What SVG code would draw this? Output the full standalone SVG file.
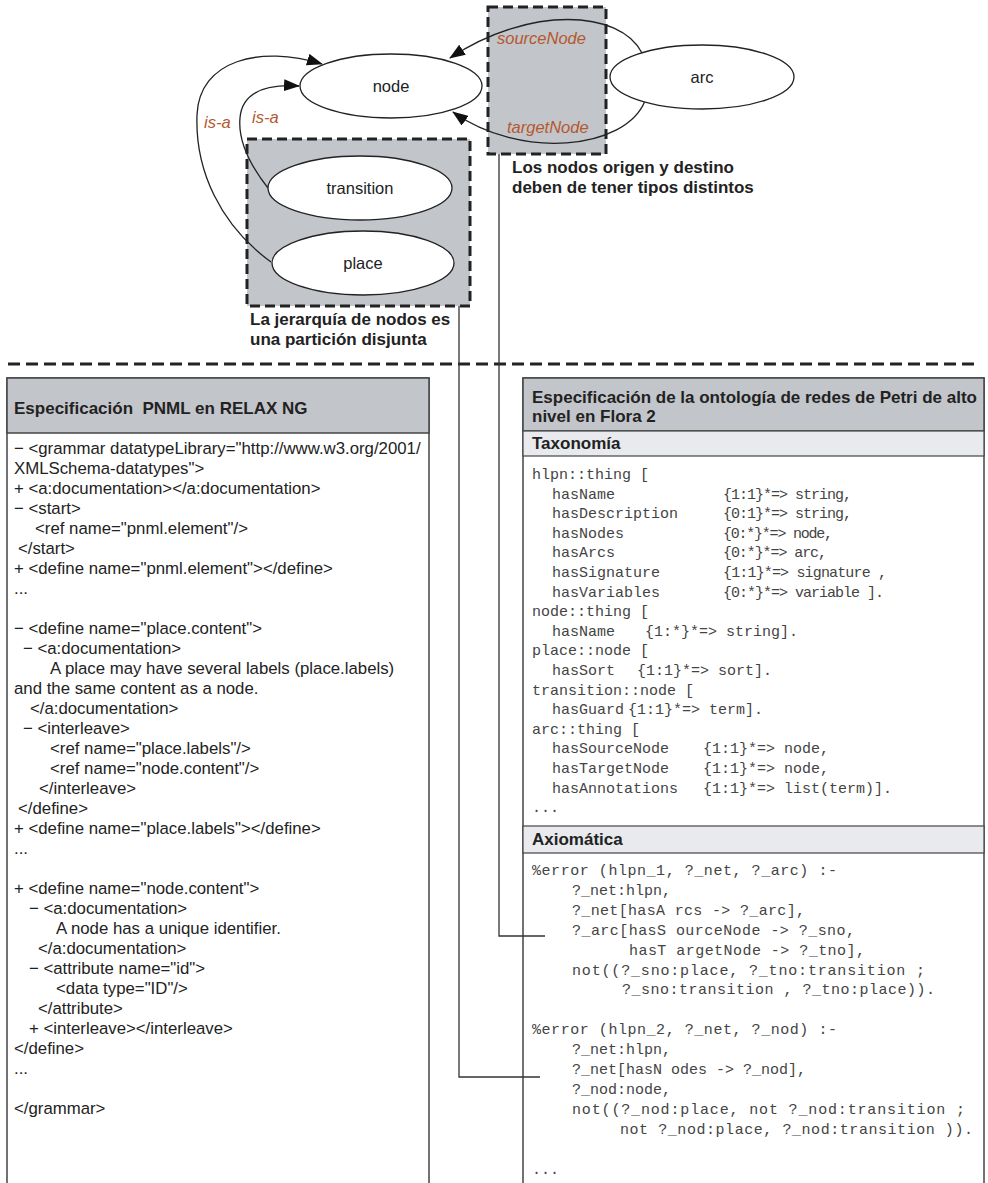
<svg xmlns="http://www.w3.org/2000/svg" width="988" height="1183" viewBox="0 0 988 1183">
<defs>
<marker id="ah" markerWidth="16" markerHeight="12" refX="15" refY="6" orient="auto" markerUnits="userSpaceOnUse">
<path d="M0,0 L16,6 L0,12 z" fill="#111"/>
</marker>
<style>
.lbl{font-family:"Liberation Sans",Arial,sans-serif;font-size:16.5px;fill:#222;text-anchor:middle}
.rel{font-family:"Liberation Sans",Arial,sans-serif;font-size:16.5px;font-style:italic;fill:#b5582e}
.note{font-family:"Liberation Sans",Arial,sans-serif;font-size:17px;font-weight:bold;fill:#222}
.ell{fill:#fff;stroke:#222;stroke-width:1.3}
.dbox{fill:#c2c5ca;stroke:#222;stroke-width:3;stroke-dasharray:10 5}
.sep{fill:none;stroke:#222;stroke-width:3;stroke-dasharray:12 6}
.edge{fill:none;stroke:#222;stroke-width:1.3}
.conn{fill:none;stroke:#333;stroke-width:1.3}
.panel{fill:#fff;stroke:#444;stroke-width:1.5}
.hdr{fill:#c2c5ca;stroke:#444;stroke-width:1.5}
.sub{fill:#e8eaed;stroke:#444;stroke-width:1.2}
.title{font-family:"Liberation Sans",Arial,sans-serif;font-size:17px;font-weight:bold;fill:#222;white-space:pre}
.xml{font-family:"Liberation Sans",Arial,sans-serif;font-size:16.8px;fill:#222}
.code{font-family:"Liberation Mono","Courier New",monospace;font-size:15px;fill:#444;white-space:pre}
</style>
</defs>

<!-- constraint boxes -->
<g id="box-hierarchy">
<rect class="dbox" x="247" y="139" width="223" height="167"/>
<text class="note" x="250" y="325">La jerarquía de nodos es</text>
<text class="note" x="250" y="345">una partición disjunta</text>
</g>
<g id="box-arcs">
<rect class="dbox" x="488" y="7" width="118" height="147"/>
<text class="note" x="512" y="173">Los nodos origen y destino</text>
<text class="note" x="512" y="193">deben de tener tipos distintos</text>
</g>

<!-- edges -->
<g id="edges">
<path class="edge" d="M642,53 C620,10 530,5 450,58" marker-end="url(#ah)"/>
<path class="edge" d="M645,101 C625,150 520,160 453,112" marker-end="url(#ah)"/>
<path class="edge" d="M271,262 C220,225 195,170 197,115 C199,60 260,45 322,64" marker-end="url(#ah)"/>
<path class="edge" d="M268,188 C250,165 238,140 240,118 C242,92 265,84 299,86" marker-end="url(#ah)"/>
<text class="rel" x="497" y="44">sourceNode</text>
<text class="rel" x="507" y="133">targetNode</text>
<text class="rel" x="204" y="128">is-a</text>
<text class="rel" x="252" y="123">is-a</text>
</g>

<g id="node-node">
<ellipse class="ell" cx="391" cy="86" rx="91" ry="32"/>
<text class="lbl" x="391" y="92">node</text>
</g>
<g id="node-arc">
<ellipse class="ell" cx="702" cy="77" rx="92" ry="32"/>
<text class="lbl" x="702" y="83">arc</text>
</g>
<g id="node-transition">
<ellipse class="ell" cx="360" cy="188" rx="92" ry="32"/>
<text class="lbl" x="360" y="194">transition</text>
</g>
<g id="node-place">
<ellipse class="ell" cx="363" cy="263" rx="91" ry="32"/>
<text class="lbl" x="363" y="269">place</text>
</g>

<line class="sep" x1="8" y1="364" x2="976" y2="364"/>

<!-- left panel -->
<g id="panel-pnml">
<rect class="panel" x="7" y="378" width="422" height="830"/>
<rect class="hdr" x="7" y="378" width="422" height="55"/>
<text class="title" x="14" y="414" xml:space="preserve">Especificación  PNML en RELAX NG</text>
<g class="xml">
<text x="14" y="454">− &lt;grammar datatypeLibrary="http://www.w3.org/2001/</text>
<text x="14" y="474">XMLSchema-datatypes"&gt;</text>
<text x="14" y="494">+ &lt;a:documentation&gt;&lt;/a:documentation&gt;</text>
<text x="14" y="514">− &lt;start&gt;</text>
<text x="35" y="534">&lt;ref name="pnml.element"/&gt;</text>
<text x="18" y="554">&lt;/start&gt;</text>
<text x="14" y="574">+ &lt;define name="pnml.element"&gt;&lt;/define&gt;</text>
<text x="14" y="594">...</text>
<text x="14" y="634">− &lt;define name="place.content"&gt;</text>
<text x="23" y="654">− &lt;a:documentation&gt;</text>
<text x="50" y="674">A place may have several labels (place.labels)</text>
<text x="14" y="694">and the same content as a node.</text>
<text x="30" y="714">&lt;/a:documentation&gt;</text>
<text x="23" y="734">− &lt;interleave&gt;</text>
<text x="50" y="754">&lt;ref name="place.labels"/&gt;</text>
<text x="50" y="774">&lt;ref name="node.content"/&gt;</text>
<text x="39" y="794">&lt;/interleave&gt;</text>
<text x="18" y="814">&lt;/define&gt;</text>
<text x="14" y="834">+ &lt;define name="place.labels"&gt;&lt;/define&gt;</text>
<text x="14" y="854">...</text>
<text x="14" y="894">+ &lt;define name="node.content"&gt;</text>
<text x="29" y="914">− &lt;a:documentation&gt;</text>
<text x="56" y="934">A node has a unique identifier.</text>
<text x="38" y="954">&lt;/a:documentation&gt;</text>
<text x="29" y="974">− &lt;attribute name="id"&gt;</text>
<text x="56" y="994">&lt;data type="ID"/&gt;</text>
<text x="38" y="1014">&lt;/attribute&gt;</text>
<text x="29" y="1034">+ &lt;interleave&gt;&lt;/interleave&gt;</text>
<text x="14" y="1054">&lt;/define&gt;</text>
<text x="14" y="1074">...</text>
<text x="14" y="1114">&lt;/grammar&gt;</text>
</g>
</g>

<!-- right panel -->
<g id="panel-flora">
<rect class="panel" x="523" y="378" width="461" height="830"/>
<rect class="hdr" x="523" y="378" width="461" height="53"/>
<text class="title" x="532" y="403">Especificación de la ontología de redes de Petri de alto</text>
<text class="title" x="532" y="422">nivel en Flora 2</text>
<rect class="sub" x="523" y="431" width="461" height="25"/>
<text class="title" x="532" y="449">Taxonomía</text>
<g class="code" xml:space="preserve">
<text x="532" y="479">hlpn::thing  [</text>
<text x="552" y="498.6">hasName</text><text x="723" y="498.6" textLength="129" lengthAdjust="spacing">{1:1}*=> string,</text>
<text x="552" y="518.2">hasDescription</text><text x="723" y="518.2" textLength="129" lengthAdjust="spacing">{0:1}*=> string,</text>
<text x="552" y="537.8">hasNodes</text><text x="723" y="537.8" textLength="110" lengthAdjust="spacing">{0:*}*=> node,</text>
<text x="552" y="557.4">hasArcs</text><text x="723" y="557.4" textLength="104" lengthAdjust="spacing">{0:*}*=> arc,</text>
<text x="552" y="577">hasSignature</text><text x="723" y="577" textLength="164" lengthAdjust="spacing">{1:1}*=> signature ,</text>
<text x="552" y="596.6">hasVariables</text><text x="723" y="596.6" textLength="161" lengthAdjust="spacing">{0:*}*=> variable ].</text>
<text x="532" y="616.2">node::thing  [</text>
<text x="552" y="635.8">hasName</text><text x="645" y="635.8">{1:*}*=> string].</text>
<text x="532" y="655.4">place::node  [</text>
<text x="552" y="675">hasSort</text><text x="637" y="675">{1:1}*=> sort].</text>
<text x="532" y="694.6">transition::node  [</text>
<text x="552" y="714.2">hasGuard</text><text x="628" y="714.2">{1:1}*=> term].</text>
<text x="532" y="733.8">arc::thing  [</text>
<text x="552" y="753.4">hasSourceNode</text><text x="703" y="753.4">{1:1}*=> node,</text>
<text x="552" y="773">hasTargetNode</text><text x="703" y="773">{1:1}*=> node,</text>
<text x="552" y="792.6">hasAnnotations</text><text x="703" y="792.6">{1:1}*=> list(term)].</text>
<text x="532" y="812.2">...</text>
</g>
<rect class="sub" x="523" y="826" width="461" height="27"/>
<text class="title" x="532" y="845">Axiomática</text>
<g class="code" xml:space="preserve">
<text x="532" y="875" textLength="305" lengthAdjust="spacing">%error (hlpn_1, ?_net, ?_arc) :-</text>
<text x="572" y="894.9">?_net:hlpn,</text>
<text x="572" y="914.8" textLength="233" lengthAdjust="spacing">?_net[hasA rcs -> ?_arc],</text>
<text x="572" y="934.7" textLength="283" lengthAdjust="spacing">?_arc[hasS ourceNode  -> ?_sno,</text>
<text x="629" y="954.6" textLength="236" lengthAdjust="spacing">hasT argetNode  -> ?_tno],</text>
<text x="572" y="974.5" textLength="353" lengthAdjust="spacing">not((?_sno:place, ?_tno:transition  ;</text>
<text x="622" y="994.4" textLength="313" lengthAdjust="spacing">?_sno:transition , ?_tno:place)).</text>
<text x="532" y="1034.2" textLength="305" lengthAdjust="spacing">%error (hlpn_2, ?_net, ?_nod) :-</text>
<text x="572" y="1054.1">?_net:hlpn,</text>
<text x="572" y="1074">?_net[hasN odes -> ?_nod],</text>
<text x="572" y="1093.9">?_nod:node,</text>
<text x="572" y="1113.8" textLength="393" lengthAdjust="spacing">not((?_nod:place, not ?_nod:transition  ;</text>
<text x="620" y="1133.7" textLength="353" lengthAdjust="spacing">not ?_nod:place, ?_nod:transition )).</text>
<text x="532" y="1173.5">...</text>
</g>
</g>

<!-- connectors from constraints to formal axioms -->
<g id="connectors">
<path class="conn" d="M459,306 V1077 H540"/>
<path class="conn" d="M499,154 V936 H545"/>
</g>
</svg>
